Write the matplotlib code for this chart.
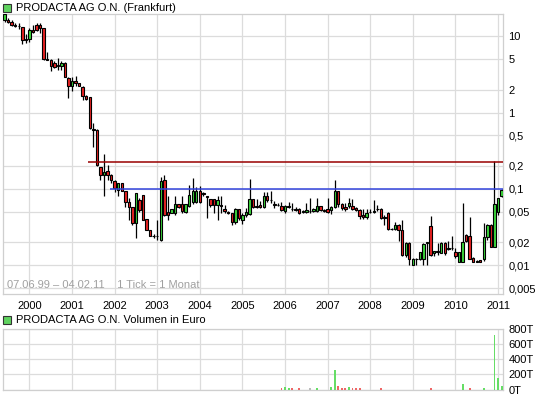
import numpy as np
import pandas as pd
import matplotlib
matplotlib.use("Agg")
import matplotlib.pyplot as plt
from matplotlib.patches import Rectangle
from matplotlib.ticker import NullLocator

plt.rcParams['font.family'] = ['Liberation Sans', 'DejaVu Sans']

# ------------------------------------------------------------
# Daten (monatliche Kerzen, Frankfurt, 07.06.99 - 04.02.11)
# ------------------------------------------------------------
months = pd.period_range('1999-06', '2011-02', freq='M')

opens = [16.5, 16.3, 15.1, 14.0, 13.7, 13.0, 9.2,
         9.2, 12.0, 14.0, 13.8, 12.6, 5.0, 4.9, 4.4, 4.1, 4.1, 4.5, 2.85,
         2.2, 2.55, 2.4, 2.15, 1.65, 1.6, 0.6, 0.59, 0.195, 0.152, 0.17, 0.152,
         0.128, 0.096, 0.118, 0.095, 0.068, 0.058, 0.036, 0.072, 0.082, 0.04, 0.029, 0.024,
         0.0245, 0.0215, 0.131, 0.05, 0.049, 0.049, 0.063, 0.063, 0.05, 0.06, 0.068, 0.068,
         0.093, 0.088, 0.08, 0.073, 0.073, 0.061, 0.062, 0.055, 0.05, 0.048, 0.037, 0.054,
         0.039, 0.046, 0.047, 0.073, 0.06, 0.062, 0.058, 0.081, 0.072, 0.063, 0.062, 0.059,
         0.052, 0.058, 0.055, 0.054, 0.054, 0.05, 0.05, 0.052, 0.052, 0.052, 0.059, 0.051,
         0.055, 0.053, 0.058, 0.093, 0.064, 0.058, 0.059, 0.059, 0.057, 0.053, 0.046, 0.043,
         0.05, 0.05, 0.055, 0.055, 0.041, 0.049, 0.03, 0.03, 0.034, 0.029, 0.0137, 0.0198,
         0.0101, 0.012, 0.012, 0.0122, 0.0195, 0.033, 0.0145, 0.0155, 0.0145, 0.0195, 0.0165, 0.0167,
         0.015, 0.0109, 0.0109, 0.025, 0.024, 0.0125, 0.0109, 0.0117, 0.012, 0.0235, 0.034, 0.0175,
         0.05, 0.081]
highs = [19.5, 17.3, 16.3, 15.0, 15.0, 13.3, 10.6,
         12.6, 14.0, 15.0, 15.0, 12.8, 6.2, 5.0, 4.7, 5.1, 4.7, 4.6, 2.9,
         2.9, 3.0, 2.45, 2.2, 1.7, 1.6, 0.72, 0.6, 0.195, 0.29, 0.206, 0.155,
         0.13, 0.12, 0.118, 0.095, 0.075, 0.058, 0.089, 0.077, 0.082, 0.04, 0.029, 0.026,
         0.039, 0.145, 0.152, 0.08, 0.055, 0.08, 0.064, 0.08, 0.064, 0.112, 0.138, 0.105,
         0.108, 0.092, 0.08, 0.073, 0.074, 0.08, 0.08, 0.061, 0.051, 0.048, 0.056, 0.055,
         0.048, 0.056, 0.135, 0.073, 0.073, 0.07, 0.092, 0.092, 0.095, 0.069, 0.066, 0.068,
         0.062, 0.068, 0.065, 0.058, 0.056, 0.053, 0.065, 0.075, 0.056, 0.077, 0.06, 0.054,
         0.076, 0.06, 0.13, 0.095, 0.066, 0.065, 0.077, 0.074, 0.058, 0.055, 0.054, 0.054,
         0.055, 0.072, 0.062, 0.056, 0.045, 0.05, 0.031, 0.037, 0.035, 0.039, 0.02, 0.02,
         0.0125, 0.0125, 0.015, 0.0195, 0.02, 0.044, 0.0155, 0.0195, 0.02, 0.02, 0.021, 0.024,
         0.017, 0.015, 0.066, 0.0255, 0.043, 0.0128, 0.0118, 0.0118, 0.036, 0.035, 0.035, 0.23,
         0.076, 0.1]
lows = [15.3, 15.0, 13.7, 13.2, 12.4, 8.0, 8.2,
        8.4, 10.9, 11.8, 11.0, 4.9, 4.85, 3.5, 3.8, 3.6, 3.6, 2.9, 1.55,
        1.9, 2.25, 2.2, 1.45, 1.45, 0.6, 0.35, 0.2, 0.131, 0.08, 0.131, 0.12,
        0.09, 0.08, 0.094, 0.058, 0.039, 0.034, 0.023, 0.05, 0.039, 0.029, 0.024, 0.023,
        0.0214, 0.021, 0.044, 0.039, 0.048, 0.0455, 0.057, 0.049, 0.049, 0.058, 0.063, 0.066,
        0.066, 0.08, 0.041, 0.058, 0.048, 0.039, 0.048, 0.048, 0.047, 0.034, 0.035, 0.039,
        0.035, 0.043, 0.046, 0.057, 0.057, 0.056, 0.056, 0.068, 0.066, 0.057, 0.059, 0.052,
        0.048, 0.056, 0.052, 0.051, 0.047, 0.048, 0.048, 0.048, 0.05, 0.05, 0.051, 0.05,
        0.049, 0.047, 0.057, 0.058, 0.053, 0.051, 0.057, 0.053, 0.051, 0.04, 0.04, 0.04,
        0.048, 0.049, 0.051, 0.04, 0.034, 0.029, 0.029, 0.029, 0.021, 0.0131, 0.013, 0.0101,
        0.0101, 0.0101, 0.0117, 0.0101, 0.0101, 0.0133, 0.0133, 0.0135, 0.0145, 0.0135, 0.016, 0.016,
        0.0125, 0.0109, 0.0109, 0.02, 0.012, 0.0109, 0.0109, 0.0109, 0.0115, 0.0215, 0.0172, 0.0172,
        0.046, 0.079]
closes = [19.3, 15.1, 13.8, 13.6, 13.6, 8.9, 8.9,
          12.2, 11.2, 12.0, 12.6, 5.0, 4.9, 4.1, 4.0, 4.15, 4.5, 2.9, 2.2,
          2.55, 2.4, 2.2, 1.65, 1.5, 0.63, 0.59, 0.206, 0.152, 0.167, 0.152, 0.131,
          0.103, 0.118, 0.094, 0.068, 0.058, 0.036, 0.089, 0.053, 0.039, 0.029, 0.024, 0.0245,
          0.0245, 0.125, 0.0455, 0.0455, 0.054, 0.063, 0.058, 0.051, 0.063, 0.083, 0.095, 0.093,
          0.068, 0.085, 0.078, 0.062, 0.061, 0.072, 0.06, 0.052, 0.048, 0.037, 0.054, 0.041,
          0.0455, 0.05, 0.073, 0.058, 0.058, 0.058, 0.081, 0.072, 0.071, 0.062, 0.061, 0.053,
          0.059, 0.059, 0.054, 0.053, 0.048, 0.051, 0.053, 0.052, 0.054, 0.059, 0.053, 0.053,
          0.05, 0.058, 0.093, 0.064, 0.057, 0.054, 0.065, 0.055, 0.053, 0.044, 0.043, 0.049,
          0.05, 0.052, 0.054, 0.041, 0.043, 0.03, 0.03, 0.034, 0.029, 0.0135, 0.0198, 0.0122,
          0.0122, 0.012, 0.0147, 0.0188, 0.02, 0.0135, 0.0152, 0.0147, 0.0195, 0.0145, 0.0167, 0.0167,
          0.0131, 0.015, 0.02, 0.021, 0.012, 0.0109, 0.0115, 0.0109, 0.0235, 0.034, 0.0175, 0.063,
          0.075, 0.097]

# Volumen in Tausend Euro (nur Monate mit Umsatz)
vol_months = ['2005-12', '2006-01', '2006-02', '2006-03', '2006-05', '2006-08', '2006-10',
              '2007-02', '2007-03', '2007-04', '2007-05', '2007-06', '2007-07', '2007-08',
              '2007-09', '2007-10', '2008-04', '2009-06', '2010-03', '2010-05', '2010-09',
              '2010-12', '2011-01', '2011-02']
vol_values = [18, 31, 18, 18, 18, 18, 18,
              31, 258, 44, 18, 18, 31, 18,
              18, 18, 18, 18, 71, 18, 18,
              724, 151, 44]

price_ticks = [10, 5, 2, 1, 0.5, 0.2, 0.1, 0.05, 0.02, 0.01, 0.005]
price_labels = ['10', '5', '2', '1', '0,5', '0,2', '0,1', '0,05', '0,02', '0,01', '0,005']
vol_ticks = [0, 200, 400, 600, 800]
vol_labels = ['0T', '200T', '400T', '600T', '800T']

# Widerstandslinien
red_level, red_start = 0.225, '2001-06'
blue_level, blue_start = 0.1, '2001-12'

# ------------------------------------------------------------
# Farben / Layout
# ------------------------------------------------------------
GREEN = '#3cd63c'
RED = '#e82222'
GRID = '#dcdcdc'
FS = 8

o = np.array(opens)
h = np.array(highs)
l = np.array(lows)
c = np.array(closes)
x = np.arange(len(months))

farben = np.where(c > o, GREEN, np.where(c < o, RED, 'black'))

fig = plt.figure(figsize=(5.45, 3.98), dpi=100)
ax = fig.add_axes([3 / 545, 1 - 294 / 398, 500 / 545, 280 / 398])
axv = fig.add_axes([3 / 545, 1 - 389.5 / 398, 500 / 545, 60.2 / 398])

xmin, xmax = -0.45, len(months) - 0.6
jan = [i for i, p in enumerate(months) if p.month == 1]
jan_labels = [str(months[i].year) for i in jan]

# Kurs-Chart
ax.set_yscale('log')
ax.vlines(x, l, h, color='black', lw=0.9, zorder=3)
ax.bar(x, np.abs(c - o), bottom=np.minimum(o, c), width=0.68,
       color=farben, edgecolor='black', linewidth=0.8, zorder=4)

ax.hlines(red_level, months.get_loc(red_start) - 0.4, xmax, color='#990000', lw=1.1, zorder=5)
ax.hlines(blue_level, months.get_loc(blue_start) - 0.4, xmax, color='#3344dd', lw=1.1, zorder=5)

ax.set_xlim(xmin, xmax)
ax.set_ylim(0.0042, 19.5)
ax.set_yticks(price_ticks)
ax.set_yticklabels(price_labels)
ax.yaxis.set_minor_locator(NullLocator())
ax.yaxis.tick_right()
ax.set_xticks(jan)
ax.set_xticklabels(jan_labels)
ax.tick_params(length=0, labelsize=FS, pad=4)
ax.tick_params(axis='x', pad=5)
ax.grid(True, color=GRID, lw=0.9, zorder=0)
ax.set_axisbelow(True)
for s in ax.spines.values():
    s.set_color('#cfcfcf')
    s.set_linewidth(0.9)

# Volumen-Chart
vx = [months.get_loc(m) for m in vol_months]
vfarben = ['#66dd66' if c[i] > o[i] else ('#ee6666' if c[i] < o[i] else '#bbbbbb') for i in vx]
axv.bar(vx, vol_values, width=0.55, color=vfarben, zorder=3)
axv.set_xlim(xmin, xmax)
axv.set_ylim(0, 800)
axv.set_yticks(vol_ticks)
axv.set_yticklabels(vol_labels)
axv.yaxis.tick_right()
axv.set_xticks(jan)
axv.set_xticklabels([])
axv.tick_params(length=0, labelsize=FS, pad=4)
axv.grid(True, color=GRID, lw=0.9, zorder=0)
axv.set_axisbelow(True)
for s in axv.spines.values():
    s.set_color('#cfcfcf')
    s.set_linewidth(0.9)

# Texte
fig.add_artist(Rectangle((3 / 545, 1 - 12 / 398), 8 / 545, 8 / 398, transform=fig.transFigure,
                         facecolor='#5fd35f', edgecolor='#333333', lw=0.8))
fig.text(16 / 545, 1 - 8 / 398, 'PRODACTA AG O.N. (Frankfurt)', va='center', fontsize=FS)

fig.add_artist(Rectangle((3 / 545, 1 - 324 / 398), 8 / 545, 8 / 398, transform=fig.transFigure,
                         facecolor='#5fd35f', edgecolor='#333333', lw=0.8))
fig.text(16 / 545, 1 - 320 / 398, 'PRODACTA AG O.N. Volumen in Euro', va='center', fontsize=FS)

fig.text(7 / 545, 1 - 285 / 398, '07.06.99 \u2013 04.02.11    1 Tick = 1 Monat',
         va='center', fontsize=FS, color='#a0a0a0')

fig.savefig('out.png', dpi=100)
